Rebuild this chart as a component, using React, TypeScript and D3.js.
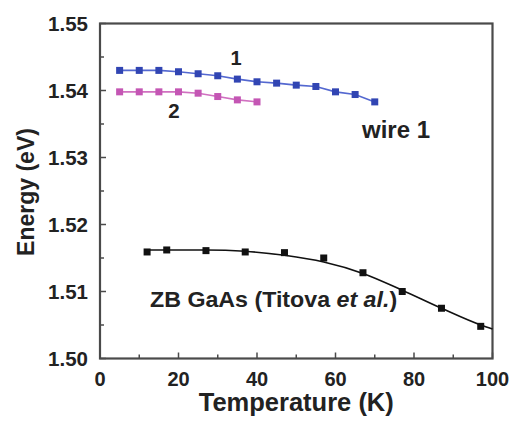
import React from "react";
import * as d3 from "d3";

// wire 1, trace "1" (blue)
const wire1T = [5, 10, 15, 20, 25, 30, 35, 40, 45, 50, 55, 60, 65, 70];
const wire1E = [1.543, 1.543, 1.543, 1.5428, 1.5425, 1.5422, 1.5417, 1.5413, 1.5411, 1.5408, 1.5406, 1.5398, 1.5394, 1.5383];

// wire 1, trace "2" (pink)
const wire2T = [5, 10, 15, 20, 25, 30, 35, 40];
const wire2E = [1.5398, 1.5398, 1.5398, 1.5398, 1.5396, 1.5391, 1.5386, 1.5383];

// ZB GaAs points (Titova et al.)
const gaasT = [12, 17, 27, 37, 47, 57, 67, 77, 87, 97];
const gaasE = [1.5159, 1.5162, 1.5161, 1.5159, 1.5158, 1.515, 1.5128, 1.51, 1.5075, 1.5048];

// fitted curve through the ZB GaAs points
const fitT = [12, 27, 37, 47, 57, 67, 77, 87, 97, 100];
const fitE = [1.5162, 1.5162, 1.516, 1.5154, 1.5144, 1.5127, 1.5102, 1.5075, 1.505, 1.5044];

const xTicks = [0, 20, 40, 60, 80, 100];
const xMinor = [10, 30, 50, 70, 90];
const yTicks = [1.5, 1.51, 1.52, 1.53, 1.54, 1.55];
const yMinor = [1.505, 1.515, 1.525, 1.535, 1.545];

const W = 513;
const H = 423;
const m = { left: 100, right: 20.5, top: 23.5, bottom: 64.5 };
const font = "'Liberation Sans', Arial, sans-serif";

const x = d3.scaleLinear().domain([0, 100]).range([m.left, W - m.right]);
const y = d3.scaleLinear().domain([1.5, 1.55]).range([H - m.bottom, m.top]);

const pts = (t: number[], e: number[]) => t.map((v, i) => [v, e[i]] as [number, number]);

const straight = d3.line<[number, number]>().x(d => x(d[0])).y(d => y(d[1]));
const smooth = d3.line<[number, number]>().x(d => x(d[0])).y(d => y(d[1])).curve(d3.curveMonotoneX);

const Squares = ({ data, fill, s }: { data: [number, number][]; fill: string; s: number }) => (
  <g>
    {data.map((d, i) => (
      <rect key={i} x={x(d[0]) - s / 2} y={y(d[1]) - s / 2} width={s} height={s} fill={fill} />
    ))}
  </g>
);

export default function App() {
  const x0 = x.range()[0], x1 = x.range()[1];
  const y0 = y.range()[0], y1 = y.range()[1];
  return (
    <svg width={W} height={H} style={{ position: "absolute", left: 0, top: 0, background: "#fff" }} fontFamily={font}>
      {/* frame */}
      <rect x={x0} y={y1} width={x1 - x0} height={y0 - y1} fill="none" stroke="#4a4a4a" strokeWidth={2.2} />

      {/* x ticks, inward */}
      {xTicks.map(t => (
        <line key={"xt" + t} x1={x(t)} x2={x(t)} y1={y0} y2={y0 - 6} stroke="#4a4a4a" strokeWidth={1.5} />
      ))}
      {xMinor.map(t => (
        <line key={"xm" + t} x1={x(t)} x2={x(t)} y1={y0} y2={y0 - 4} stroke="#4a4a4a" strokeWidth={1.5} />
      ))}
      {xTicks.map(t => (
        <text key={"xl" + t} x={x(t)} y={386} textAnchor="middle" fontSize={20} fontWeight="bold" fill="#222">
          {t}
        </text>
      ))}

      {/* y ticks, inward */}
      {yTicks.map(t => (
        <line key={"yt" + t} x1={x0} x2={x0 + 6} y1={y(t)} y2={y(t)} stroke="#4a4a4a" strokeWidth={1.5} />
      ))}
      {yMinor.map(t => (
        <line key={"ym" + t} x1={x0} x2={x0 + 4} y1={y(t)} y2={y(t)} stroke="#4a4a4a" strokeWidth={1.5} />
      ))}
      {yTicks.map(t => (
        <text key={"yl" + t} x={88} y={y(t) + 7} textAnchor="end" fontSize={20.5} fontWeight="bold" fill="#222">
          {d3.format(".2f")(t)}
        </text>
      ))}

      {/* axis titles */}
      <text x={(x0 + x1) / 2} y={411} textAnchor="middle" fontSize={25.5} fontWeight="bold" fill="#222">
        Temperature (K)
      </text>
      <text transform="translate(34,192) rotate(-90)" textAnchor="middle" fontSize={23} fontWeight="bold" fill="#222">
        Energy (eV)
      </text>

      {/* ZB GaAs fit and points */}
      <path d={smooth(pts(fitT, fitE)) || ""} fill="none" stroke="#111" strokeWidth={1.6} />
      <Squares data={pts(gaasT, gaasE)} fill="#111" s={7} />

      {/* wire traces */}
      <path d={straight(pts(wire2T, wire2E)) || ""} fill="none" stroke="#d070c0" strokeWidth={1.6} />
      <Squares data={pts(wire2T, wire2E)} fill="#c456b4" s={7} />
      <path d={straight(pts(wire1T, wire1E)) || ""} fill="none" stroke="#5468d0" strokeWidth={1.6} />
      <Squares data={pts(wire1T, wire1E)} fill="#3145b3" s={7} />

      {/* labels */}
      <text x={236} y={65} textAnchor="middle" fontSize={20} fontWeight="bold" fill="#222">1</text>
      <text x={174} y={118} textAnchor="middle" fontSize={20.5} fontWeight="bold" fill="#222">2</text>
      <text x={362} y={138} fontSize={24} fontWeight="bold" fill="#222">wire 1</text>
      <text transform="translate(150,307) scale(1.08,1)" fontSize={21.5} fontWeight="bold" fill="#222">
        ZB GaAs (Titova <tspan fontStyle="italic">et al.</tspan>)
      </text>
    </svg>
  );
}
